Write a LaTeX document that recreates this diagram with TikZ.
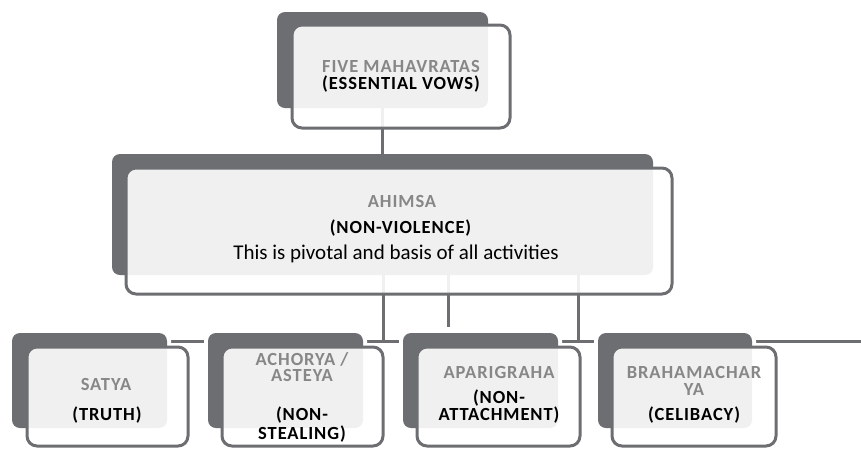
\documentclass[tikz,border=0pt]{standalone}
\usepackage{fontspec}
\setmainfont{Carlito}
\newfontfamily\spacedfont[LetterSpace=5]{Carlito}
\pgfdeclarelayer{bg}
\pgfsetlayers{bg,main}
\definecolor{dk}{HTML}{6D6E71}
\definecolor{hd}{HTML}{878787}
\begin{document}
\begin{tikzpicture}[x=1pt,y=-1pt,
  backbox/.style={draw=none, fill=dk, rounded corners=8pt, inner sep=0pt, outer sep=0pt, anchor=north west},
  haloback/.style={backbox, preaction={draw=white, line width=8pt}},
  frontbox/.style={draw=dk, line width=3pt, fill=white, fill opacity=0.9, rounded corners=10pt, inner sep=0pt, outer sep=0pt, anchor=north west},
  conn/.style={draw=dk, line width=3pt},
  txt/.style={anchor=base, inner sep=0pt, text height=12pt, text depth=0.5pt},
  hdtext/.style={txt, font=\spacedfont\bfseries\fontsize{18.5}{18.5}\selectfont, text=hd},
  bktext/.style={txt, font=\spacedfont\bfseries\fontsize{18.5}{18.5}\selectfont, text=black},
  rgtext/.style={txt, font=\fontsize{21}{21}\selectfont, text=black}
]
\useasboundingbox (0,0) rectangle (861,448);

% back rectangles
\node[backbox, minimum width=211pt, minimum height=96pt] (topB) at (277,12) {};
\node[backbox, minimum width=541pt, minimum height=121pt] (ahB) at (112,154) {};
\node[haloback, minimum width=155pt, minimum height=95pt] (satB) at (12,333) {};
\node[haloback, minimum width=155pt, minimum height=95pt] (achB) at (208,333) {};
\node[haloback, minimum width=155pt, minimum height=95pt] (apaB) at (403,333) {};
\node[haloback, minimum width=154pt, minimum height=95pt] (braB) at (598,333) {};

% front boxes
\node[frontbox, minimum width=218pt, minimum height=103pt] (topF) at (292,25) {};
\node[frontbox, minimum width=546pt, minimum height=126pt] (ahF) at (126,168) {};
\node[frontbox, minimum width=161pt, minimum height=99pt] (satF) at (27,347) {};
\node[frontbox, minimum width=161pt, minimum height=99pt] (achF) at (222,347) {};
\node[frontbox, minimum width=163pt, minimum height=99pt] (apaF) at (417,347) {};
\node[frontbox, minimum width=164pt, minimum height=99pt] (braF) at (612,347) {};

% texts
\node[hdtext] (t1a) at (401,72) {FIVE MAHAVRATAS};
\node[bktext] (t1b) at (401,89) {(ESSENTIAL VOWS)};

\node[hdtext] (t2a) at (402,207) {AHIMSA};
\node[bktext] (t2b) at (400.5,233) {(NON-VIOLENCE)};
\node[rgtext] (t2c) at (396,259) {This is pivotal and basis of all activities};

\node[hdtext] (t3a) at (106,390) {SATYA};
\node[bktext] (t3b) at (107,420) {(TRUTH)};

\node[anchor=base, inner sep=0pt, align=center, text=hd,
      font=\spacedfont\bfseries\fontsize{18.5}{15.5}\selectfont]
      (t4a) at (302,381) {ACHORYA /\\ASTEYA};
\node[bktext] (t4c) at (302,420) {(NON-};
\node[bktext] (t4d) at (302,439) {STEALING)};

\node[hdtext] (t5a) at (499,378) {APARIGRAHA};
\node[bktext] (t5b) at (499,403) {(NON-};
\node[bktext] (t5c) at (499,420) {ATTACHMENT)};

\node[hdtext] (t6a) at (694,378) {BRAHAMACHAR};
\node[hdtext] (t6b) at (694,395) {YA};
\node[bktext] (t6c) at (694,420) {(CELIBACY)};

% connectors
\coordinate (j1) at (383,341);
\coordinate (j2) at (448,327);
\coordinate (j3) at (578,341);
\coordinate (busR) at (861,341);
\begin{pgfonlayer}{bg}
  \draw[conn] (topB.south) -- (topB.south |- ahB.north);
  \draw[conn] (ahB.south -| j1) -- (j1);
  \draw[conn] (ahB.south -| j2) -- (j2);
  \draw[conn] (ahB.south -| j3) -- (j3);
  \draw[conn] (satB.center |- j1) -- (busR);
\end{pgfonlayer}
\end{tikzpicture}
\end{document}
